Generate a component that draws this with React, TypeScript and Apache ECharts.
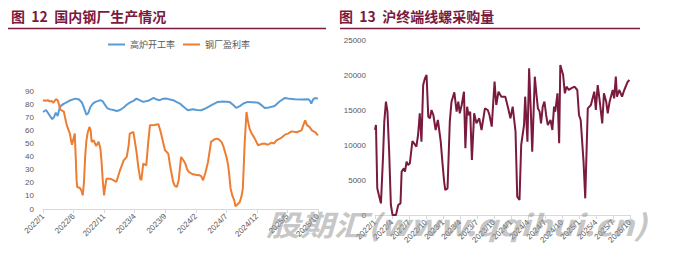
import React, { useEffect, useRef } from "react";
import * as echarts from "echarts";

// x = months since 2022/1
const blastFurnaceRate: [number, number][] = [
  [0, 74], [0.5, 75.5], [1, 72], [1.5, 68.5], [1.8, 70], [2.1, 73.5], [2.4, 71], [2.6, 75], [2.85, 78.5], [3.3, 80],
  [3.7, 81], [4.5, 83], [5.3, 84.2], [5.9, 83.5], [6.4, 81], [6.8, 76], [7.1, 72], [7.4, 73], [7.75, 77.8], [8.2, 80.5],
  [8.6, 81.7], [9.4, 83], [9.8, 82], [10.2, 79], [10.5, 77], [11, 76], [11.5, 75.5], [12.1, 74.8], [12.6, 75.5], [13.2, 77.4],
  [13.7, 79.5], [14.2, 81.1], [14.8, 82.5], [15.3, 84.2], [15.8, 83], [16.4, 81.7], [17.2, 82.5], [18.1, 84.7], [18.6, 83.5], [19.1, 83],
  [19.6, 84], [20.2, 84.2], [20.8, 83.5], [21.3, 83], [21.9, 81.5], [22.4, 80.4], [23, 78], [23.7, 75.3], [24.5, 76], [25.2, 75.5],
  [25.9, 75.3], [26.7, 77], [27.5, 79.1], [28.6, 81.7], [29.5, 82], [30.5, 81.7], [31.1, 79.5], [31.6, 77.1], [32.2, 78.5], [32.8, 80.5],
  [33.5, 81.7], [34.3, 81.5], [35.2, 81.1], [35.8, 79], [36.3, 77.1], [37, 77.5], [37.9, 78.6], [38.7, 82], [39.6, 84.7], [40.4, 84],
  [41.2, 83.7], [42.3, 83.5], [43.4, 83.7], [43.7, 82.5], [43.9, 80.5], [44.2, 83.5], [44.5, 84.7], [45, 84.2],
];

const steelProfitRate: [number, number][] = [
  [0, 83], [0.4, 82.5], [0.8, 83], [1.1, 82], [1.4, 82.5], [1.7, 81], [2.1, 83.7], [2.4, 83], [2.6, 80], [2.8, 76.1],
  [3.1, 75], [3.4, 74.5], [3.6, 70], [3.9, 63.8], [4.2, 60], [4.4, 57.5], [4.6, 52], [4.75, 49], [4.95, 53], [5.2, 57.5],
  [5.35, 40], [5.5, 22], [5.6, 16.8], [6.05, 16], [6.3, 14], [6.5, 10.4], [6.7, 20], [6.9, 40], [7.1, 52], [7.3, 58],
  [7.6, 62.6], [7.8, 60], [7.96, 51.2], [8.3, 52.4], [8.7, 48], [9.1, 51.2], [9.4, 46], [9.6, 35], [9.8, 20], [10.0, 10.4],
  [10.2, 18], [10.4, 23.1], [11, 23.1], [11.5, 22], [12, 20.6], [12.3, 25], [12.6, 29.5], [13.2, 37.1], [13.7, 39.7], [14.0, 48],
  [14.2, 57.5], [14.8, 58.7], [15.3, 43.5], [15.6, 32], [15.9, 23.1], [16.1, 22], [16.4, 34.6], [16.9, 33.3], [17.2, 50], [17.5, 63.8],
  [18.2, 64], [18.9, 64.6], [19.3, 58], [19.96, 44.8], [20.5, 42.2], [20.8, 33], [21.3, 20.6], [21.6, 17.5], [21.9, 16.8], [22.2, 22],
  [22.6, 39.7], [23.0, 37], [23.3, 34.6], [23.6, 30], [23.9, 28.2], [24.5, 26.5], [25.2, 26], [25.6, 25.7], [25.9, 25], [26.2, 21.9],
  [26.6, 28], [27, 35.9], [27.3, 45], [27.5, 51.2], [28, 53], [28.4, 53.7], [28.8, 53], [29.2, 51.2], [29.5, 48], [29.7, 44.8],
  [30.0, 40], [30.3, 33.3], [30.5, 25], [30.7, 15.5], [31, 10], [31.3, 6.6], [31.5, 2], [31.8, 3.5], [32.2, 5.3], [32.5, 10],
  [32.7, 15.5], [33.0, 50], [33.3, 74], [33.5, 68], [33.8, 61.3], [34.1, 58], [34.5, 55], [35.2, 48.6], [35.7, 49.5], [36.3, 49.9],
  [36.8, 49], [37.4, 50.6], [37.8, 50], [38.2, 52.4], [38.9, 54], [39.6, 56.7], [40.1, 57.5], [40.7, 59.2], [41.5, 58.5], [42.3, 60],
  [42.6, 64], [42.9, 67.7], [43.2, 64], [43.6, 62.6], [44, 60], [44.5, 58.7], [45, 56.2],
];

const rebarPurchase: [number, number][] = [
  [0, 12143], [0.17, 12857], [0.4, 3810], [0.7, 2800], [1.05, 1667], [1.4, 8000], [1.64, 13333], [1.93, 16190], [2.2, 14762], [2.5, 9000],
  [2.8, 1429], [3.1, 0], [3.7, 0], [4.1, 1430], [4.5, 1667], [4.7, 6190], [5.1, 6667], [5.3, 6190], [5.57, 7619], [5.86, 7143],
  [6.15, 7380], [6.6, 10571], [6.9, 10238], [7.3, 9762], [7.6, 11430], [7.9, 14524], [8.2, 10476], [8.5, 18571], [8.8, 19500], [9.1, 20000],
  [9.4, 14048], [9.7, 13810], [9.97, 15000], [10.3, 14286], [10.7, 12143], [11.1, 13571], [11.6, 10476], [11.9, 7500], [12.2, 4762], [12.4, 3571],
  [12.8, 3810], [13.2, 13333], [13.5, 16190], [14, 17524], [14.4, 14762], [14.7, 16190], [14.96, 14524], [15.3, 15714], [15.7, 17619], [15.95, 9524],
  [16.25, 15476], [16.5, 14286], [16.8, 14762], [17.1, 7857], [17.5, 14524], [17.9, 13095], [18.4, 13810], [18.8, 12143], [19.4, 15238], [19.9, 15000],
  [20.2, 14286], [20.6, 12619], [21.1, 19048], [21.4, 15714], [21.8, 17619], [22.3, 16905], [23, 16905], [23.5, 15238], [23.9, 13810], [24.3, 15476],
  [24.8, 11905], [25.1, 2619], [25.5, 2143], [25.8, 10000], [26.3, 12857], [26.5, 16905], [26.9, 10476], [27.2, 20952], [27.5, 14762], [27.75, 9048],
  [28.2, 19762], [28.5, 17143], [28.75, 15238], [29.05, 14762], [29.3, 13095], [29.6, 15476], [29.9, 16190], [30.2, 14286], [30.5, 12857], [30.98, 13571],
  [31.3, 12143], [31.6, 15476], [31.8, 14762], [32.2, 17381], [32.5, 10238], [32.7, 21428], [33.2, 20000], [33.5, 17381], [33.8, 18333], [34.2, 17857],
  [34.6, 18095], [35.2, 18333], [35.7, 17857], [36, 14286], [36.3, 13571], [36.8, 7619], [37.1, 2381], [37.55, 15238], [38.1, 15714], [38.7, 17619],
  [38.97, 15000], [39.3, 18571], [39.6, 16667], [40.1, 13095], [40.4, 17381], [40.8, 16190], [41.07, 14524], [41.4, 16190], [41.95, 17857], [42.2, 16667],
  [42.5, 19762], [42.7, 16905], [43.1, 17857], [43.6, 16905], [43.99, 17857], [44.6, 19048], [44.9, 19286],
];

const seriesNames = ["高炉开工率", "钢厂盈利率"];
const titles = ["图  12  国内钢厂生产情况", "图  13  沪终端线螺采购量"];
const watermark = "股期汇(www.qqihui.cn)";

const FONT = "'Liberation Sans', 'Noto Sans CJK SC', sans-serif";
const CJK = "'Noto Sans CJK SC', sans-serif";
const TITLE_COLOR = "#7A1A3F";
const LABEL_COLOR = "#595959";

function monthLabel(v: number) {
  const m = Math.round(v);
  const y = 2022 + Math.floor(m / 12);
  return `${y}/${(m % 12) + 1}`;
}

function xAxisCfg(gridIndex: number, interval: number) {
  return {
    type: "value",
    gridIndex,
    min: 0,
    max: 45,
    interval,
    axisLine: { show: true, lineStyle: { color: "#D9D9D9", width: 1 } },
    axisTick: { show: true, length: 4, lineStyle: { color: "#D9D9D9" } },
    splitLine: { show: false },
    axisLabel: {
      rotate: 45,
      fontSize: 8,
      margin: 6,
      color: LABEL_COLOR,
      fontFamily: FONT,
      formatter: monthLabel,
    },
  };
}

function yAxisCfg(gridIndex: number, max: number, interval: number) {
  return {
    type: "value",
    gridIndex,
    min: 0,
    max,
    interval,
    axisLine: { show: false },
    axisTick: { show: false },
    splitLine: { show: false },
    axisLabel: {
      fontSize: 8,
      margin: 9,
      color: LABEL_COLOR,
      fontFamily: FONT,
      formatter: (v: number) => String(v),
    },
  };
}

export default function App() {
  const ref = useRef<HTMLDivElement>(null);
  useEffect(() => {
    if (!ref.current) return;
    const chart = echarts.init(ref.current, undefined, { renderer: "svg" });
    chart.setOption({
      animation: false,
      backgroundColor: "#ffffff",
      legend: {
        data: seriesNames,
        left: 103,
        top: 35,
        icon: "rect",
        itemWidth: 17,
        itemHeight: 2,
        itemGap: 8,
        textStyle: { fontSize: 9, color: LABEL_COLOR, fontFamily: CJK },
      },
      grid: [
        { left: 43, right: 356, top: 91, bottom: 49 },
        { left: 375, right: 44, top: 40, bottom: 43 },
      ],
      xAxis: [xAxisCfg(0, 5), xAxisCfg(1, 3)],
      yAxis: [yAxisCfg(0, 90, 10), yAxisCfg(1, 25000, 5000)],
      series: [
        {
          name: seriesNames[0],
          type: "line",
          xAxisIndex: 0,
          yAxisIndex: 0,
          data: blastFurnaceRate,
          showSymbol: false,
          lineStyle: { color: "#5B9BD5", width: 2 },
          itemStyle: { color: "#5B9BD5" },
        },
        {
          name: seriesNames[1],
          type: "line",
          xAxisIndex: 0,
          yAxisIndex: 0,
          data: steelProfitRate,
          showSymbol: false,
          lineStyle: { color: "#ED7D31", width: 2 },
          itemStyle: { color: "#ED7D31" },
        },
        {
          name: "采购量",
          type: "line",
          xAxisIndex: 1,
          yAxisIndex: 1,
          data: rebarPurchase,
          showSymbol: false,
          lineStyle: { color: "#7A1A3F", width: 2 },
          itemStyle: { color: "#7A1A3F" },
        },
      ],
      graphic: [
        {
          type: "text",
          left: 11,
          top: 9,
          style: { text: titles[0], font: `bold 14px ${CJK}`, fill: TITLE_COLOR },
        },
        {
          type: "text",
          left: 339,
          top: 9,
          style: { text: titles[1], font: `bold 14px ${CJK}`, fill: TITLE_COLOR },
        },
        {
          type: "line",
          shape: { x1: 8, y1: 28.5, x2: 326, y2: 28.5 },
          style: { stroke: TITLE_COLOR, lineWidth: 1.5 },
        },
        {
          type: "line",
          shape: { x1: 340, y1: 28.5, x2: 640, y2: 28.5 },
          style: { stroke: TITLE_COLOR, lineWidth: 1.5 },
        },
        {
          type: "text",
          x: 266,
          y: 209,
          scaleX: 1.17,
          z: 100,
          style: {
            text: watermark,
            font: `italic bold 29px ${CJK}`,
            fill: "rgba(150,150,150,0.55)",
          },
        },
      ],
    });
    return () => chart.dispose();
  }, []);
  return (
    <div
      ref={ref}
      style={{ position: "fixed", left: 0, top: 0, width: 674, height: 258, background: "#fff" }}
    />
  );
}
